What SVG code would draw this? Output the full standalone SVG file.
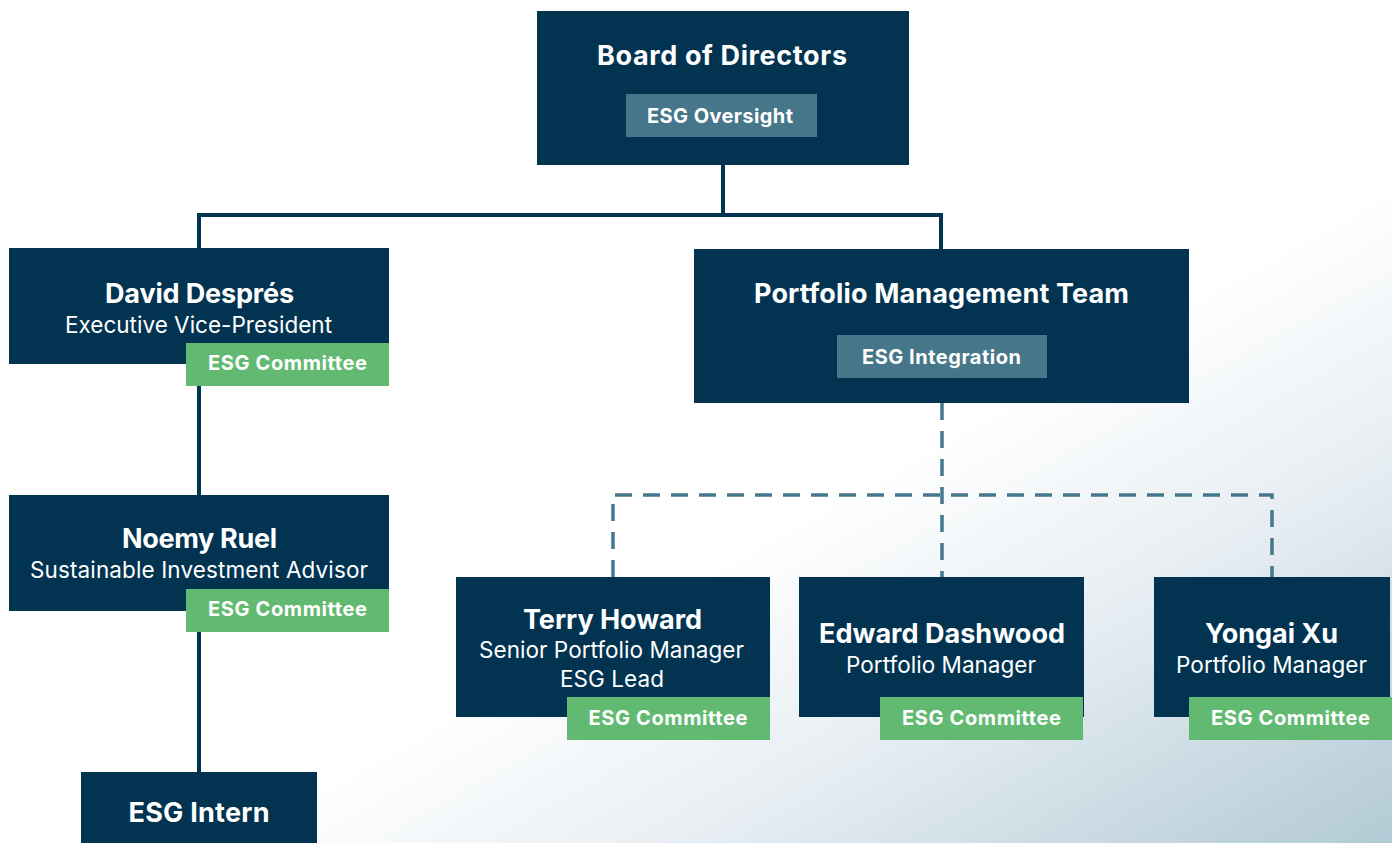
<svg xmlns="http://www.w3.org/2000/svg" width="1392" height="843" viewBox="0 0 1392 843">
  <defs>
    <linearGradient id="bg" gradientUnits="userSpaceOnUse" x1="1110" y1="340" x2="1392" y2="843">
      <stop offset="0" stop-color="#ffffff"/>
      <stop offset="0.42" stop-color="#e6edf2"/>
      <stop offset="1" stop-color="#b2cad5"/>
    </linearGradient>
    <style>
      .box { fill: #023452; }
      .tag { fill: #62ba72; }
      .sub { fill: #467689; }
      .t { font-family: Inter, "Liberation Sans", sans-serif; fill: #ffffff; text-anchor: middle; }
      .name { font-size: 27px; font-weight: 700; }
      .role { font-size: 22.5px; font-weight: 400; }
      .lbl { font-size: 20px; font-weight: 700; }
      .solid { fill: none; stroke: #023452; stroke-width: 4; }
      .dash { fill: none; stroke: #45788c; stroke-width: 3.5; stroke-dasharray: 17 11; }
    </style>
  </defs>

  <rect width="1392" height="843" fill="url(#bg)"/>

  <!-- reporting lines -->
  <g id="connectors">
    <path class="solid" d="M723,165 V215"/>
    <path class="solid" d="M199,248 V215 H941 V249"/>
    <path class="solid" d="M199,386 V495"/>
    <path class="solid" d="M199,632 V772"/>
    <path class="dash" d="M942,403 V577"/>
    <path class="dash" d="M613,577 V495 H1272 V577"/>
  </g>

  <g id="board">
    <rect class="box" x="537" y="11" width="372" height="154"/>
    <text class="t name" x="722" y="65" textLength="250">Board of Directors</text>
    <rect class="sub" x="626" y="94" width="191" height="43"/>
    <text class="t lbl" x="720" y="123" textLength="146">ESG Oversight</text>
  </g>

  <g id="david">
    <rect class="box" x="9" y="248" width="380" height="116"/>
    <text class="t name" x="199.5" y="303" textLength="189">David Després</text>
    <text class="t role" x="198.5" y="333" textLength="267">Executive Vice-President</text>
    <rect class="tag" x="186" y="343" width="203" height="43"/>
    <text class="t lbl" x="287.5" y="370" textLength="159">ESG Committee</text>
  </g>

  <g id="noemy">
    <rect class="box" x="9" y="495" width="380" height="116"/>
    <text class="t name" x="199.5" y="548" textLength="155">Noemy Ruel</text>
    <text class="t role" x="199" y="578" textLength="338">Sustainable Investment Advisor</text>
    <rect class="tag" x="186" y="589" width="203" height="43"/>
    <text class="t lbl" x="287.5" y="616" textLength="159">ESG Committee</text>
  </g>

  <g id="intern">
    <rect class="box" x="81" y="772" width="236" height="71"/>
    <text class="t name" x="199" y="822" textLength="141">ESG Intern</text>
  </g>

  <g id="pmt">
    <rect class="box" x="694" y="249" width="495" height="154"/>
    <text class="t name" x="941.5" y="303" textLength="375">Portfolio Management Team</text>
    <rect class="sub" x="837" y="335" width="210" height="43"/>
    <text class="t lbl" x="941.5" y="364" textLength="159">ESG Integration</text>
  </g>

  <g id="terry">
    <rect class="box" x="456" y="577" width="314" height="140"/>
    <text class="t name" x="612.5" y="629" textLength="179">Terry Howard</text>
    <text class="t role" x="611.5" y="658" textLength="265">Senior Portfolio Manager</text>
    <text class="t role" x="612" y="687" textLength="104">ESG Lead</text>
    <rect class="tag" x="567" y="697" width="203" height="43"/>
    <text class="t lbl" x="668" y="725" textLength="159">ESG Committee</text>
  </g>

  <g id="edward">
    <rect class="box" x="799" y="577" width="285" height="140"/>
    <text class="t name" x="942" y="643" textLength="246">Edward Dashwood</text>
    <text class="t role" x="941" y="673" textLength="190">Portfolio Manager</text>
    <rect class="tag" x="880" y="697" width="203" height="43"/>
    <text class="t lbl" x="981.5" y="725" textLength="159">ESG Committee</text>
  </g>

  <g id="yongai">
    <rect class="box" x="1154" y="577" width="236" height="140"/>
    <text class="t name" x="1271.5" y="643" textLength="133">Yongai Xu</text>
    <text class="t role" x="1271.5" y="673" textLength="191">Portfolio Manager</text>
    <rect class="tag" x="1189" y="697" width="203" height="43"/>
    <text class="t lbl" x="1290.5" y="725" textLength="159">ESG Committee</text>
  </g>
</svg>
